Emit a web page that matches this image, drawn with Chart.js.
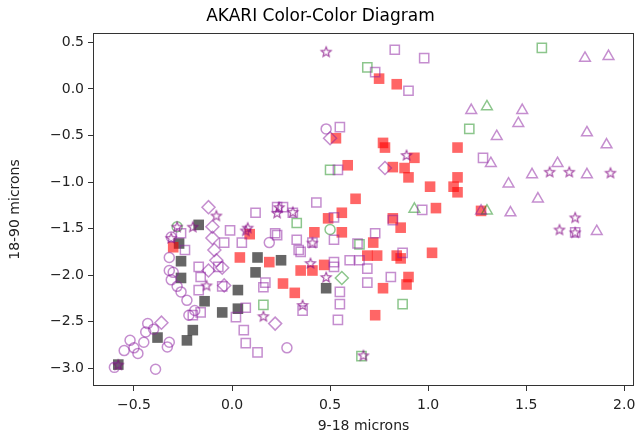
<!DOCTYPE html>
<html><head><meta charset="utf-8">
<script src="https://cdn.jsdelivr.net/npm/chart.js@4"></script>
<style>html,body{margin:0;padding:0;background:#fff}</style>
</head><body>
<canvas id="c" width="644" height="439" style="width:644px;height:439px;display:block"></canvas>
<script>
// ---- data (x = 9-18 microns, y = 18-90 microns) ----
const titleText = "AKARI Color-Color Diagram";
const xLabel = "9-18 microns";
const yLabel = "18-90 microns";
const xTicks = [-0.5, 0.0, 0.5, 1.0, 1.5, 2.0];
const yTicks = [0.5, 0.0, -0.5, -1.0, -1.5, -2.0, -2.5, -3.0];

const purpleSquares = [[0.83,0.42],[0.98,0.33],[0.90,-0.02],[0.73,0.18],[0.55,-0.41],[1.28,-0.74],[0.54,-0.87],[0.43,-1.22],[0.52,-1.38],[0.82,-1.41],[0.97,-1.30],[0.73,-1.55],[0.52,-1.62],[0.33,-1.62],[0.34,-1.73],[0.41,-1.65],[0.87,-1.76],[0.52,-1.86],[0.60,-1.84],[0.65,-1.84],[0.69,-1.93],[0.81,-2.02],[0.69,-2.08],[0.52,-1.91],[0.55,-2.31],[0.54,-2.48],[0.36,-2.38],[0.07,-2.35],[0.02,-2.45],[0.06,-2.59],[0.07,-2.73],[0.13,-2.83],[-0.16,-2.40],[-0.20,-2.43],[-0.17,-2.16],[0.12,-1.33],[0.31,-1.33],[0.26,-1.27],[0.64,-1.66],[0.23,-1.57],[-0.01,-1.52],[-0.04,-1.65],[0.05,-1.65],[0.22,-1.55],[-0.17,-1.91],[-0.16,-2.02],[0.16,-2.13],[-0.05,-2.12],[-0.24,-1.73],[0.23,-1.27],[1.75,-1.54],[0.35,-1.75],[0.17,-2.08],[0.55,-2.18],[-0.07,-1.91],[-0.26,-1.55]];
const purpleCircles = [[0.48,-0.43],[0.19,-1.65],[-0.32,-1.81],[-0.30,-1.97],[-0.31,-1.59],[-0.60,-2.99],[-0.39,-3.01],[0.28,-2.78],[-0.23,-2.27],[-0.52,-2.70],[-0.55,-2.81],[-0.43,-2.52],[-0.44,-2.61],[-0.32,-2.72],[-0.33,-2.77],[-0.48,-2.84],[-0.45,-2.72],[-0.22,-2.43],[-0.19,-2.38],[-0.32,-1.95],[-0.31,-2.05],[-0.28,-2.12],[-0.26,-2.18],[-0.50,-2.78],[-0.40,-2.58]];
const purpleDiamonds = [[-0.12,-1.27],[-0.10,-1.48],[-0.10,-1.60],[-0.09,-1.73],[-0.08,-1.84],[-0.05,-1.92],[-0.36,-2.51],[0.22,-2.52],[0.50,-0.53],[0.78,-0.85],[-0.04,-2.11],[-0.12,-1.95]];
const purpleTriangles = [[1.80,0.33],[1.92,0.35],[1.22,-0.23],[1.48,-0.23],[1.46,-0.37],[1.35,-0.51],[1.81,-0.47],[1.91,-0.60],[1.32,-0.80],[1.66,-0.80],[1.53,-0.92],[1.41,-1.02],[1.81,-0.92],[1.56,-1.18],[1.42,-1.33],[1.86,-1.53],[1.27,-1.31]];
const purpleStars = [[0.48,0.40],[0.89,-0.71],[1.62,-0.89],[1.72,-0.89],[1.93,-0.90],[1.67,-1.51],[1.75,-1.38],[1.75,-1.54],[-0.08,-1.36],[-0.20,-1.48],[0.08,-1.49],[-0.31,-1.60],[-0.28,-1.48],[0.23,-1.33],[0.07,-1.52],[0.36,-2.32],[0.16,-2.44],[0.31,-1.32],[0.41,-1.65],[0.40,-1.87],[0.48,-2.02],[0.67,-2.86],[-0.58,-2.96],[0.24,-1.27],[-0.13,-2.11]];
const redSquares = [[0.75,0.11],[0.84,0.05],[0.53,-0.53],[0.77,-0.58],[0.78,-0.63],[1.15,-0.63],[0.93,-0.74],[0.59,-0.82],[0.82,-0.84],[0.88,-0.85],[0.90,-0.95],[1.01,-1.05],[1.13,-1.05],[1.15,-0.95],[1.15,-1.11],[1.04,-1.28],[1.27,-1.31],[0.63,-1.18],[0.56,-1.33],[0.49,-1.39],[0.42,-1.54],[0.56,-1.54],[0.82,-1.39],[0.86,-1.49],[0.72,-1.65],[0.69,-1.79],[0.74,-1.79],[0.84,-1.79],[0.86,-1.82],[1.02,-1.76],[0.35,-1.95],[0.41,-1.95],[0.47,-1.89],[0.90,-2.02],[0.89,-2.10],[0.77,-2.14],[0.32,-2.19],[0.73,-2.43],[0.09,-1.56],[0.04,-1.81],[0.19,-1.86],[0.26,-2.09],[-0.30,-1.70]];
const graySquares = [[-0.17,-1.46],[-0.27,-1.66],[-0.26,-1.85],[-0.26,-2.03],[-0.14,-2.28],[-0.05,-2.40],[0.03,-2.16],[0.03,-2.36],[-0.20,-2.59],[-0.23,-2.70],[-0.38,-2.67],[-0.58,-2.96],[0.13,-1.81],[0.12,-1.97],[0.25,-1.84],[0.48,-2.14]];
const greenSquares = [[1.58,0.44],[0.69,0.23],[1.21,-0.43],[0.33,-1.44],[0.65,-1.67],[0.87,-2.31],[0.66,-2.87],[0.16,-2.32],[0.50,-0.87]];
const greenTriangles = [[1.30,-0.19],[0.93,-1.29],[1.30,-1.31]];
const greenDiamonds = [[0.56,-2.03]];
const greenCircles = [[0.50,-1.51],[-0.28,-1.48]];

// ---- styles ----
const PURPLE = 'rgba(140,30,160,0.5)';
const PURPLE_STAR = 'rgba(128,0,128,0.7)';
const GREEN = 'rgba(0,128,0,0.45)';
const RED = 'rgba(255,0,0,0.6)';
const GRAY = 'rgba(0,0,0,0.6)';
const NONE = 'rgba(0,0,0,0)';

function makeStar(color){
  const s = 14, c = document.createElement('canvas');
  c.width = s; c.height = s;
  const g = c.getContext('2d');
  const R = 5.2, r = 2.3, cx = s/2, cy = s/2 + 0.5;
  g.beginPath();
  for (let i = 0; i < 10; i++){
    const ang = -Math.PI/2 + i*Math.PI/5;
    const rad = i % 2 ? r : R;
    const px = cx + rad*Math.cos(ang), py = cy + rad*Math.sin(ang);
    i ? g.lineTo(px,py) : g.moveTo(px,py);
  }
  g.closePath();
  g.strokeStyle = color; g.lineWidth = 1.2; g.lineJoin='miter';
  g.stroke();
  return c;
}
const starImg = makeStar(PURPLE_STAR);

const pts = a => a.map(p => ({x:p[0], y:p[1]}));
function ds(data, style, radius, border, fill, bw){
  return {data: pts(data), pointStyle: style, pointRadius: radius, pointHoverRadius: radius,
    borderColor: border, backgroundColor: fill, pointBorderWidth: bw, borderWidth: bw, showLine:false};
}

const datasets = [
  ds(purpleSquares, 'rect', 6.5, PURPLE, NONE, 1.5),
  ds(purpleCircles, 'circle', 5, PURPLE, NONE, 1.5),
  ds(purpleDiamonds, 'rectRot', 6.5, PURPLE, NONE, 1.5),
  ds(purpleTriangles, 'triangle', 6.2, PURPLE, NONE, 1.5),
  ds(purpleStars, starImg, 6, PURPLE_STAR, NONE, 1),
  ds(greenSquares, 'rect', 6.5, GREEN, NONE, 1.5),
  ds(greenTriangles, 'triangle', 6.2, GREEN, NONE, 1.5),
  ds(greenDiamonds, 'rectRot', 6.5, GREEN, NONE, 1.5),
  ds(greenCircles, 'circle', 5, GREEN, NONE, 1.5),
  ds(redSquares, 'rect', 7.5, NONE, RED, 0),
  ds(graySquares, 'rect', 7.5, NONE, GRAY, 0),
];

const fmt = v => {
  if (Math.abs(v) < 1e-9) return '0.0';
  return (v < 0 ? '\u2212' : '') + Math.abs(v).toFixed(1);
};

const frame = {
  id: 'frame',
  afterDatasetsDraw(chart){
    const {ctx, chartArea:a} = chart;
    ctx.save();
    ctx.strokeStyle = '#333'; ctx.lineWidth = 1;
    ctx.strokeRect(Math.round(a.left)+0.5, Math.round(a.top)+0.5, Math.round(a.right-a.left)-1, Math.round(a.bottom-a.top)-1);
    ctx.restore();
  }
};

const tickFont = {family: 'DejaVu Sans', size: 14};
new Chart(document.getElementById('c'), {
  type: 'scatter',
  data: {datasets},
  options: {
    responsive: false, animation: false, devicePixelRatio: 1,
    layout: {padding: {left: 7, right: 10, top: 0, bottom: 4}},
    plugins: {
      legend: {display: false}, tooltip: {enabled: false},
      title: {display: true, text: titleText, color: '#000',
        font: {family: 'DejaVu Sans', size: 17, weight: 'normal', lineHeight: 1}, padding: {top: 8, bottom: 8}}
    },
    scales: {
      x: {
        type: 'linear', min: -0.709, max: 2.05,
        afterFit: s => { s.height = 49; },
        afterBuildTicks: s => { s.ticks = xTicks.map(v => ({value: v})); },
        ticks: {callback: fmt, color: '#222', font: tickFont, padding: 6, maxRotation: 0, autoSkip: false},
        grid: {display: true, drawOnChartArea: false, drawTicks: true, tickLength: 5, color: '#333'},
        border: {display: false},
        title: {display: true, text: xLabel, color: '#222', font: tickFont, padding: {top: 2, bottom: 0}}
      },
      y: {
        type: 'linear', min: -3.19, max: 0.60,
        afterFit: s => { s.width = 86; },
        afterBuildTicks: s => { s.ticks = yTicks.map(v => ({value: v})); },
        ticks: {callback: fmt, color: '#222', font: tickFont, padding: 4, autoSkip: false},
        grid: {display: true, drawOnChartArea: false, drawTicks: true, tickLength: 5, color: '#333'},
        border: {display: false},
        title: {display: true, text: yLabel, color: '#222', font: tickFont, padding: {top: 0, bottom: 4}}
      }
    }
  },
  plugins: [frame]
});
</script>
</body></html>
